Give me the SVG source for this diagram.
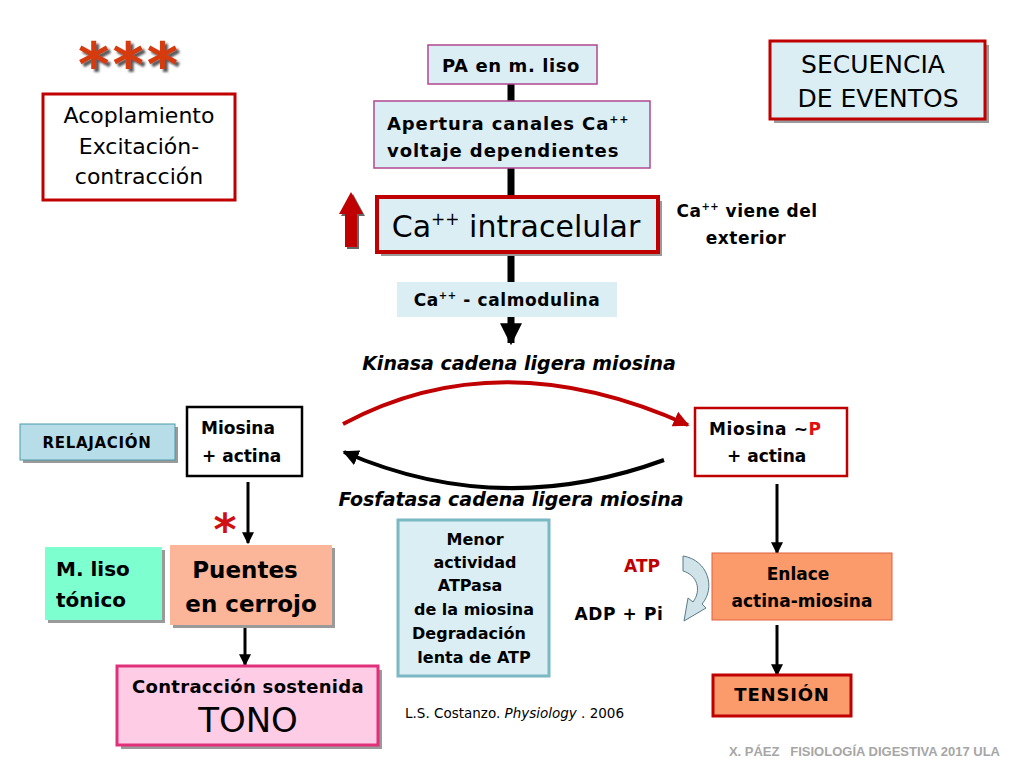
<svg xmlns="http://www.w3.org/2000/svg" width="1024" height="768" viewBox="0 0 1024 768">
<defs>
<style>
text{font-family:"DejaVu Sans","Liberation Sans",sans-serif;fill:#000}
.b{font-weight:bold}
.lb{fill:#dbeef4}
.sh{fill:#9a9a9a}
.it{font-style:italic;font-weight:bold}
.c{text-anchor:middle}
</style>
<filter id="ds" x="-10%" y="-10%" width="130%" height="140%"><feDropShadow dx="3" dy="3" stdDeviation="0.8" flood-color="#444" flood-opacity="0.9"/></filter>
<marker id="ah" viewBox="0 0 10 10" refX="9" refY="5" markerWidth="4" markerHeight="4" orient="auto"><path d="M0,0L10,5L0,10z" fill="#000"/></marker>
<marker id="ahbig" viewBox="0 0 10 10" refX="9" refY="5" markerWidth="22" markerHeight="22" markerUnits="userSpaceOnUse" orient="auto"><path d="M0,0L10,5L0,10z" fill="#000"/></marker>
<marker id="ahr" viewBox="0 0 10 10" refX="9" refY="5" markerWidth="4" markerHeight="4" orient="auto"><path d="M0,0L10,5L0,10z" fill="#c00000"/></marker>
</defs>
<rect width="1024" height="768" fill="#fff"/>

<g id="connectors" fill="none" stroke="#000">
<line x1="511" y1="84" x2="511" y2="101" stroke-width="7"/>
<line x1="511" y1="168" x2="511" y2="197" stroke-width="7"/>
<line x1="511" y1="252" x2="511" y2="282" stroke-width="7"/>
<line x1="511" y1="317" x2="511" y2="343" stroke-width="7" marker-end="url(#ahbig)"/>
<path d="M343,424 Q500,340 688,425" stroke="#c00000" stroke-width="4" marker-end="url(#ahr)"/>
<path d="M664,460 Q500,520 344,452" stroke-width="4" marker-end="url(#ah)"/>
<line x1="248" y1="482" x2="248" y2="543" stroke-width="3" marker-end="url(#ah)"/>
<line x1="245" y1="625" x2="245" y2="665" stroke-width="3" marker-end="url(#ah)"/>
<line x1="777" y1="484" x2="777" y2="553" stroke-width="3" marker-end="url(#ah)"/>
<line x1="777" y1="625" x2="777" y2="675" stroke-width="3" marker-end="url(#ah)"/>
</g>

<g id="stars">
<text x="78" y="86" font-size="60" class="b" letter-spacing="3" style="fill:#d63a10" filter="url(#ds)">***</text>
</g>

<g id="acoplamiento">
<rect x="43" y="94" width="192" height="106" fill="#fff" stroke="#c00000" stroke-width="3"/>
<text x="139" y="123" font-size="22" class="c">Acoplamiento</text>
<text x="139" y="154" font-size="22" class="c">Excitación-</text>
<text x="139" y="184" font-size="22" class="c">contracción</text>
</g>

<g id="secuencia">
<rect x="774" y="45" width="215" height="78" class="sh"/>
<rect x="770" y="41" width="215" height="78" class="lb" stroke="#c00000" stroke-width="3"/>
<text x="873" y="73" font-size="25" class="c">SECUENCIA</text>
<text x="878" y="107" font-size="25" class="c">DE EVENTOS</text>
</g>

<g id="pa">
<rect x="428" y="45" width="169" height="39" class="lb" stroke="#b04890" stroke-width="1.5"/>
<text x="511" y="72" font-size="18" class="b c" letter-spacing="0.6">PA en m. liso</text>
</g>

<g id="apertura">
<rect x="374" y="101" width="276" height="67" class="lb" stroke="#b04890" stroke-width="1.5"/>
<text x="387" y="130" font-size="18" class="b" letter-spacing="0.9">Apertura canales Ca<tspan font-size="11" dy="-7">++</tspan></text>
<text x="387" y="157" font-size="18" class="b" letter-spacing="0.9">voltaje dependientes</text>
</g>

<g id="ca-intra">
<rect x="381" y="201" width="281" height="55" class="sh"/>
<rect x="377" y="197" width="281" height="55" class="lb" stroke="#c00000" stroke-width="4"/>
<text x="516" y="237" font-size="30" class="c">Ca<tspan font-size="17" dy="-12">++</tspan><tspan dy="12"> intracelular</tspan></text>
</g>

<g id="up-arrow">
<path d="M345,247 L345,214 L339,214 L351,192 L363,214 L357,214 L357,247 Z" fill="#666" transform="translate(2,2)"/>
<path d="M345,247 L345,214 L339,214 L351,192 L363,214 L357,214 L357,247 Z" fill="#c00000"/>
</g>

<g id="viene">
<text x="747" y="217" font-size="17" class="b c" letter-spacing="0.5">Ca<tspan font-size="10" dy="-7">++</tspan><tspan dy="7"> viene del</tspan></text>
<text x="746" y="244" font-size="17" class="b c" letter-spacing="0.5">exterior</text>
</g>

<g id="calmodulina">
<rect x="397" y="282" width="220" height="35" class="lb"/>
<text x="507" y="306" font-size="17" class="b c" letter-spacing="0.6">Ca<tspan font-size="10" dy="-7">++</tspan><tspan dy="7"> - calmodulina</tspan></text>
</g>

<g id="kinasa"><text x="519" y="370" font-size="19" class="it c">Kinasa cadena ligera miosina</text></g>
<g id="fosfatasa"><text x="511" y="506" font-size="19" class="it c">Fosfatasa cadena ligera miosina</text></g>

<g id="relajacion">
<rect x="23" y="427" width="155" height="36" class="sh"/>
<rect x="20" y="424" width="155" height="36" fill="#b7dee8" stroke="#4a9aa8" stroke-width="1"/>
<text x="97" y="448" font-size="15" class="b c" letter-spacing="0.7">RELAJACIÓN</text>
</g>

<g id="miosina-actina">
<rect x="187" y="407" width="115" height="69" fill="#fff" stroke="#000" stroke-width="2.5"/>
<text x="201" y="434" font-size="17" class="b">Miosina</text>
<text x="202" y="462" font-size="17" class="b">+ actina</text>
</g>

<g id="asterisk"><text x="225" y="545" font-size="44" class="b c" style="fill:#d01010">*</text></g>

<g id="mliso">
<rect x="48" y="550" width="117" height="73" class="sh"/>
<rect x="45" y="547" width="117" height="73" fill="#7dffcf"/>
<text x="56" y="576" font-size="20" class="b">M. liso</text>
<text x="56" y="607" font-size="20" class="b">tónico</text>
</g>

<g id="puentes">
<rect x="173" y="548" width="162" height="80" class="sh"/>
<rect x="170" y="545" width="162" height="80" fill="#fbb598"/>
<text x="245" y="578" font-size="23" class="b c">Puentes</text>
<text x="251" y="612" font-size="23" class="b c">en cerrojo</text>
</g>

<g id="contraccion">
<rect x="121" y="670" width="261" height="79" class="sh"/>
<rect x="117" y="666" width="261" height="79" fill="#ffcce6" stroke="#e0307a" stroke-width="3"/>
<text x="248" y="693" font-size="18" class="b c" letter-spacing="0.3">Contracción sostenida</text>
<text x="248" y="732" font-size="34" class="c">TONO</text>
</g>

<g id="menor">
<rect x="398" y="520" width="151" height="156" class="lb" stroke="#7ab8c4" stroke-width="3"/>
<text x="475" y="545" font-size="16" class="b c">Menor</text>
<text x="475" y="568" font-size="16" class="b c">actividad</text>
<text x="470" y="591" font-size="16" class="b c">ATPasa</text>
<text x="474" y="615" font-size="16" class="b c">de la miosina</text>
<text x="469" y="639" font-size="16" class="b c">Degradación</text>
<text x="474" y="663" font-size="16" class="b c">lenta de ATP</text>
</g>

<g id="ref"><text x="405" y="718" font-size="13.5">L.S. Costanzo. <tspan font-style="italic">Physiology</tspan> .  2006</text></g>

<g id="atp">
<text x="642" y="572" font-size="17" class="b c" style="fill:#c00000">ATP</text>
<text x="619" y="620" font-size="17" class="b c" letter-spacing="0.6">ADP + Pi</text>
<path d="M683,556 C708,560 716,588 702,604 L706,608 L684,621 L688,598 L693,602 C702,590 697,575 683,571 Z" fill="#cfe3e8" stroke="#5a7a88" stroke-width="1"/>
</g>

<g id="miosina-p">
<rect x="695" y="408" width="152" height="68" fill="#fff" stroke="#c00000" stroke-width="2.5"/>
<text x="709" y="435" font-size="17" class="b" letter-spacing="0.6">Miosina ~<tspan style="fill:#e01010">P</tspan></text>
<text x="727" y="462" font-size="17" class="b">+ actina</text>
</g>

<g id="enlace">
<rect x="712" y="553" width="180" height="67" fill="#fb9a6a" stroke="#e06040" stroke-width="1"/>
<text x="798" y="580" font-size="17" class="b c">Enlace</text>
<text x="802" y="607" font-size="17" class="b c">actina-miosina</text>
</g>

<g id="tension">
<rect x="713" y="675" width="138" height="41" fill="#fb9a6a" stroke="#c00000" stroke-width="3"/>
<text x="782" y="701" font-size="18" class="b c" letter-spacing="0.8">TENSIÓN</text>
</g>

<g id="footer"><text x="1000" y="756" font-size="13" class="b" text-anchor="end" style="fill:#a6a6a6;font-family:'Liberation Sans',sans-serif;white-space:pre">X. PÁEZ   FISIOLOGÍA DIGESTIVA 2017 ULA</text></g>
</svg>
